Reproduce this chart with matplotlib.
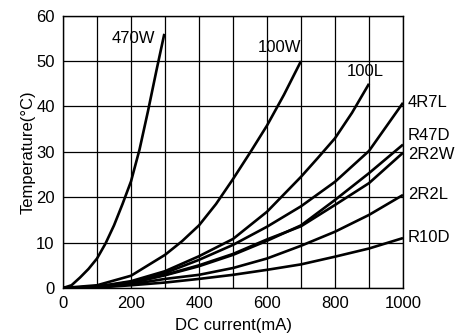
import matplotlib
matplotlib.use("Agg")
import matplotlib.pyplot as plt

plt.rcParams['font.family'] = ['Liberation Sans', 'DejaVu Sans']

# readings: current (mA) -> temperature rise (degC)
x_470w = [0, 25, 50, 75, 100, 125, 150, 175, 200, 225, 250, 275, 298]
y_470w = [0, 0.6, 2.3, 4.2, 6.5, 9.8, 13.8, 18.5, 23.5, 30.5, 39, 48, 56]

x_100w = [0, 100, 200, 300, 350, 400, 450, 500, 550, 600, 650, 700]
y_100w = [0, 0.6, 2.7, 7.3, 10.3, 13.8, 18.5, 24, 29.8, 35.8, 42.6, 50]

x_100l = [0, 100, 200, 300, 400, 500, 600, 700, 750, 800, 850, 900]
y_100l = [0, 0.3, 1.5, 3.7, 7.0, 10.8, 16.8, 24.5, 28.7, 33, 38.6, 45]

x_full = [0, 100, 200, 300, 400, 500, 600, 700, 800, 900, 1000]
y_4r7l = [0, 0.3, 1.3, 3.3, 6.2, 9.5, 13.5, 18, 23.4, 30.2, 40.8]
y_r47d = [0, 0.2, 1.1, 2.8, 4.8, 7.3, 10.4, 13.8, 19.4, 25.3, 31.6]
y_2r2w = [0, 0.2, 1.1, 2.9, 5.0, 7.5, 10.7, 13.6, 18.3, 23.1, 29.8]
y_2r2l = [0, 0.15, 0.8, 2.0, 2.9, 4.4, 6.5, 9.3, 12.4, 16.1, 20.5]
y_r10d = [0, 0.1, 0.6, 1.2, 2.0, 2.9, 4.0, 5.2, 6.9, 8.7, 11.0]

right_labels = ['4R7L', 'R47D', '2R2W', '2R2L', 'R10D']
right_label_y = [40.9, 33.7, 29.5, 20.5, 11.1]

yticks = [0, 10, 20, 30, 40, 50, 60]

fig = plt.figure(figsize=(4.62, 3.36), dpi=100)
ax = fig.add_axes([0.1364, 0.1429, 0.7359, 0.8104])

lw = 1.9
for xs, ys in [(x_470w, y_470w), (x_100w, y_100w), (x_100l, y_100l),
               (x_full, y_4r7l), (x_full, y_r47d), (x_full, y_2r2w),
               (x_full, y_2r2l), (x_full, y_r10d)]:
    ax.plot(xs, ys, color='black', lw=lw, solid_capstyle='butt', zorder=3)

ax.set_xlim(0, 1000)
ax.set_ylim(0, 60)
ax.set_xticks(range(0, 1001, 100))
ax.set_yticks(yticks)
ax.set_xticklabels([str(v) if v % 200 == 0 else '' for v in range(0, 1001, 100)])
ax.grid(True, color='black', lw=0.9)
ax.tick_params(length=0, labelsize=12, pad=6, colors='black')
for s in ax.spines.values():
    s.set_linewidth(1.0)

ax.set_xlabel('DC current(mA)', fontsize=12, labelpad=5)
ax.set_ylabel('Temperature(°C)', fontsize=12, labelpad=0)

ax.text(272, 55, '470W', fontsize=12, ha='right', va='center')
ax.text(638, 52.9, '100W', fontsize=12, ha='center', va='center')
ax.text(888, 47.6, '100L', fontsize=12, ha='center', va='center')
for lab, yy in zip(right_labels, right_label_y):
    ax.text(1015, yy, lab, fontsize=12, ha='left', va='center', clip_on=False)

fig.savefig('out.png', dpi=100)
